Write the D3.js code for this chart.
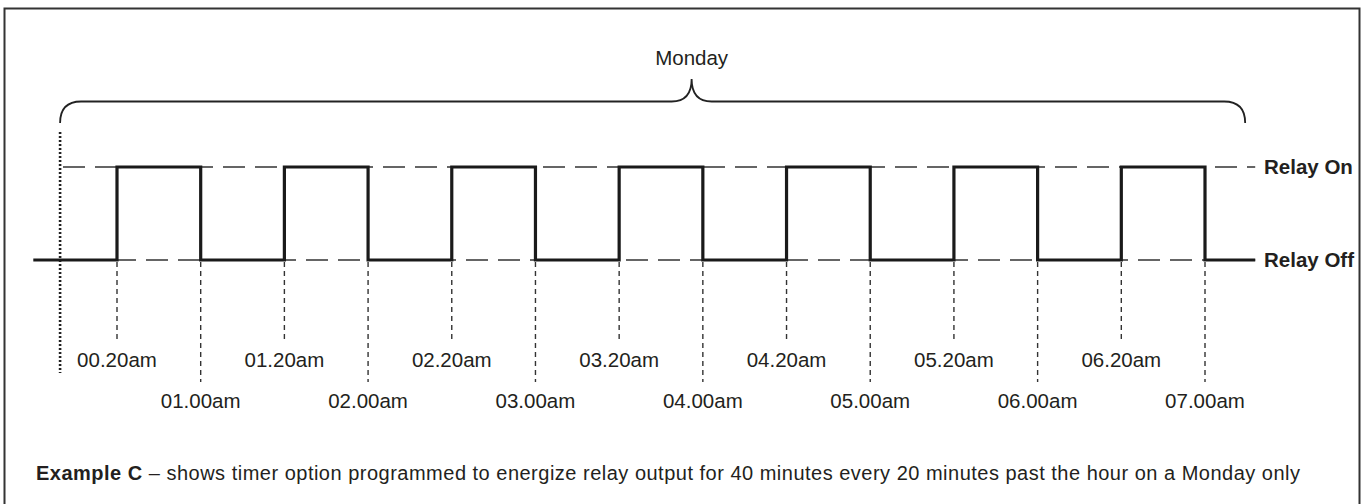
<!DOCTYPE html>
<html>
<head>
<meta charset="utf-8">
<script src="https://d3js.org/d3.v7.min.js"></script>
<style>
  html, body { margin: 0; padding: 0; background: #fff; }
  svg { display: block; font-family: "Liberation Sans", Arial, Helvetica, sans-serif; }
</style>
</head>
<body>
<svg width="1363" height="504"></svg>
<script>
// switching events of the relay, in order
const switchTimes = ["00.20am", "01.00am", "01.20am", "02.00am", "02.20am", "03.00am", "03.20am",
                     "04.00am", "04.20am", "05.00am", "05.20am", "06.00am", "06.20am", "07.00am"];
const relayAfter = [1, 0, 1, 0, 1, 0, 1, 0, 1, 0, 1, 0, 1, 0];   // 1 = on, 0 = off
const levels = ["Relay Off", "Relay On"];
const dayLabel = "Monday";
const captionBold = "Example C";
const captionText = " \u2013 shows timer option programmed to energize relay output for 40 minutes every 20 minutes past the hour on a Monday only";

const svg = d3.select("svg");
const ink = "#231f20";

// frame
svg.append("rect")
    .attr("x", 4.5).attr("y", 8.5).attr("width", 1355).attr("height", 510)
    .attr("fill", "none").attr("stroke", "#333").attr("stroke-width", 2);

const x = d3.scalePoint().domain(switchTimes).range([117, 1205]);
const y = d3.scalePoint().domain(levels).range([260, 167]);
const step = x.step();

const xStart = x(switchTimes[0]) - step;            // waveform starts one step before first switch
const xEnd = x(switchTimes[switchTimes.length - 1]) + step * 0.6;
const xDay0 = x(switchTimes[0]) - step * 0.68;      // start of Monday marker
const xDay1 = x(switchTimes[switchTimes.length - 1]) + step * 0.48;

// dashed reference levels
svg.append("g").selectAll("line")
    .data(levels)
    .join("line")
    .attr("x1", 63).attr("x2", xEnd)
    .attr("y1", d => y(d)).attr("y2", d => y(d))
    .attr("stroke", "#333").attr("stroke-width", 1.4)
    .attr("stroke-dasharray", "22,10")
    .attr("stroke-dashoffset", (d, i) => i ? 0 : 13);

// drop lines from each switch event to its label
svg.append("g").selectAll("line")
    .data(switchTimes)
    .join("line")
    .attr("x1", d => x(d)).attr("x2", d => x(d))
    .attr("y1", y("Relay Off") + 2)
    .attr("y2", (d, i) => relayAfter[i] ? 343 : 382)
    .attr("stroke", "#333").attr("stroke-width", 1.4)
    .attr("stroke-dasharray", "5,4");

// dotted day start marker
svg.append("line")
    .attr("x1", xDay0).attr("x2", xDay0).attr("y1", 132).attr("y2", 373)
    .attr("stroke", "#222").attr("stroke-width", 2.6)
    .attr("stroke-dasharray", "2,2");

// waveform
const pts = [[xStart, 0]].concat(switchTimes.map((t, i) => [x(t), relayAfter[i]]), [[xEnd, 0]]);
svg.append("path")
    .datum(pts)
    .attr("d", d3.line().x(d => d[0]).y(d => y(levels[d[1]])).curve(d3.curveStepAfter))
    .attr("fill", "none").attr("stroke", "#1a1a1a").attr("stroke-width", 3.2)
    .attr("stroke-linejoin", "miter");

// time labels
svg.append("g").selectAll("text")
    .data(switchTimes)
    .join("text")
    .attr("x", d => x(d))
    .attr("y", (d, i) => relayAfter[i] ? 367 : 408)
    .attr("text-anchor", "middle")
    .attr("font-size", 20.5).attr("fill", ink)
    .text(d => d);

// level labels
svg.append("g").selectAll("text")
    .data(levels)
    .join("text")
    .attr("x", 1264)
    .attr("y", d => y(d) + 7)
    .attr("font-size", 20.5).attr("font-weight", "bold").attr("fill", ink)
    .text(d => d);

// brace over the day
const bTop = 101.5, bEnd = 123, r = 21, mid = (xDay0 + xDay1) / 2 + 39;
const brace = d3.path();
brace.moveTo(xDay0, bEnd);
brace.quadraticCurveTo(xDay0, bTop, xDay0 + r, bTop);
brace.lineTo(mid - 20, bTop);
brace.quadraticCurveTo(mid, bTop, mid, 79);
brace.quadraticCurveTo(mid, bTop, mid + 20, bTop);
brace.lineTo(xDay1 - r, bTop);
brace.quadraticCurveTo(xDay1, bTop, xDay1, bEnd);
svg.append("path").attr("d", brace.toString())
    .attr("fill", "none").attr("stroke", "#222").attr("stroke-width", 1.8);

svg.append("text")
    .attr("x", mid).attr("y", 65)
    .attr("text-anchor", "middle")
    .attr("font-size", 20.5).attr("fill", ink)
    .text(dayLabel);

// caption
const cap = svg.append("text").attr("x", 36).attr("y", 480)
    .attr("font-size", 20).attr("fill", ink)
    .attr("textLength", 1264).attr("lengthAdjust", "spacing");
cap.append("tspan").attr("font-weight", "bold").text(captionBold);
cap.append("tspan").text(captionText);
</script>
</body>
</html>
